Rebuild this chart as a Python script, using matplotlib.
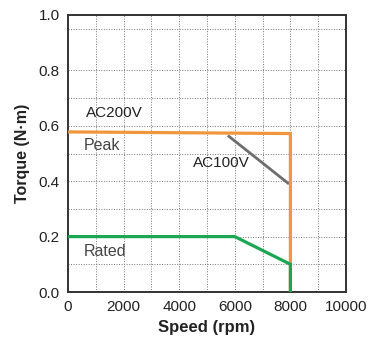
import matplotlib
matplotlib.use("Agg")
import matplotlib.pyplot as plt

# Data
peak200_speed = [0, 8000, 8000]
peak200_torque = [0.578, 0.572, 0.0]
peak100_speed = [5750, 7950]
peak100_torque = [0.565, 0.39]
rated_speed = [0, 6000, 8000, 8000]
rated_torque = [0.2, 0.2, 0.1, 0.0]
xticks = [0, 2000, 4000, 6000, 8000, 10000]
yticks = [0.0, 0.2, 0.4, 0.6, 0.8, 1.0]
xgrid = [1000, 2000, 3000, 4000, 5000, 6000, 7000, 8000, 9000]
ygrid = [0.1, 0.2, 0.3, 0.4, 0.5, 0.6, 0.7, 0.8, 0.95]

plt.rcParams['font.family'] = ['Liberation Sans', 'DejaVu Sans']

fig = plt.figure(figsize=(3.7, 3.43), dpi=100)
ax = fig.add_axes([68/370, 1-292/343, (346-68)/370, (292-15)/343])

for g in xgrid:
    ax.axvline(g, color='#777777', lw=0.7, ls=(0, (1, 1.6)), zorder=1)
for g in ygrid:
    ax.axhline(g, color='#777777', lw=0.7, ls=(0, (1, 1.6)), zorder=1)

ax.plot(peak100_speed, peak100_torque, color='#6d6d6d', lw=2.0, zorder=3, solid_capstyle='butt')
ax.plot(peak200_speed, peak200_torque, color='#f0963c', lw=2.3, zorder=4, solid_joinstyle='miter')
ax.plot(rated_speed, rated_torque, color='#1aa653', lw=2.3, zorder=4, solid_joinstyle='miter')

ax.set_xlim(0, 10000)
ax.set_ylim(0, 1.0)
ax.set_xticks(xticks)
ax.set_yticks(yticks)
ax.set_yticklabels([f"{v:.1f}" for v in yticks])
ax.tick_params(length=0, labelsize=11, colors='#222222', pad=6)
for s in ax.spines.values():
    s.set_color('#333333')
    s.set_linewidth(1.4)

ax.set_xlabel('Speed (rpm)', fontsize=12, fontweight='bold', color='#222222', labelpad=4)
ax.set_ylabel('Torque (N·m)', fontsize=11.5, fontweight='bold', color='#222222', labelpad=6)

ax.text(650, 0.645, 'AC200V', fontsize=11, color='#222222', va='center', ha='left')
ax.text(4500, 0.467, 'AC100V', fontsize=11, color='#222222', va='center', ha='left')
narrow = ['Liberation Sans Narrow', 'Liberation Sans', 'DejaVu Sans']
ax.text(550, 0.53, 'Peak', fontsize=11.5, color='#444444', va='center', ha='left', family=narrow)
ax.text(550, 0.145, 'Rated', fontsize=11.5, color='#444444', va='center', ha='left', family=narrow)

fig.savefig('out.png', dpi=100)
